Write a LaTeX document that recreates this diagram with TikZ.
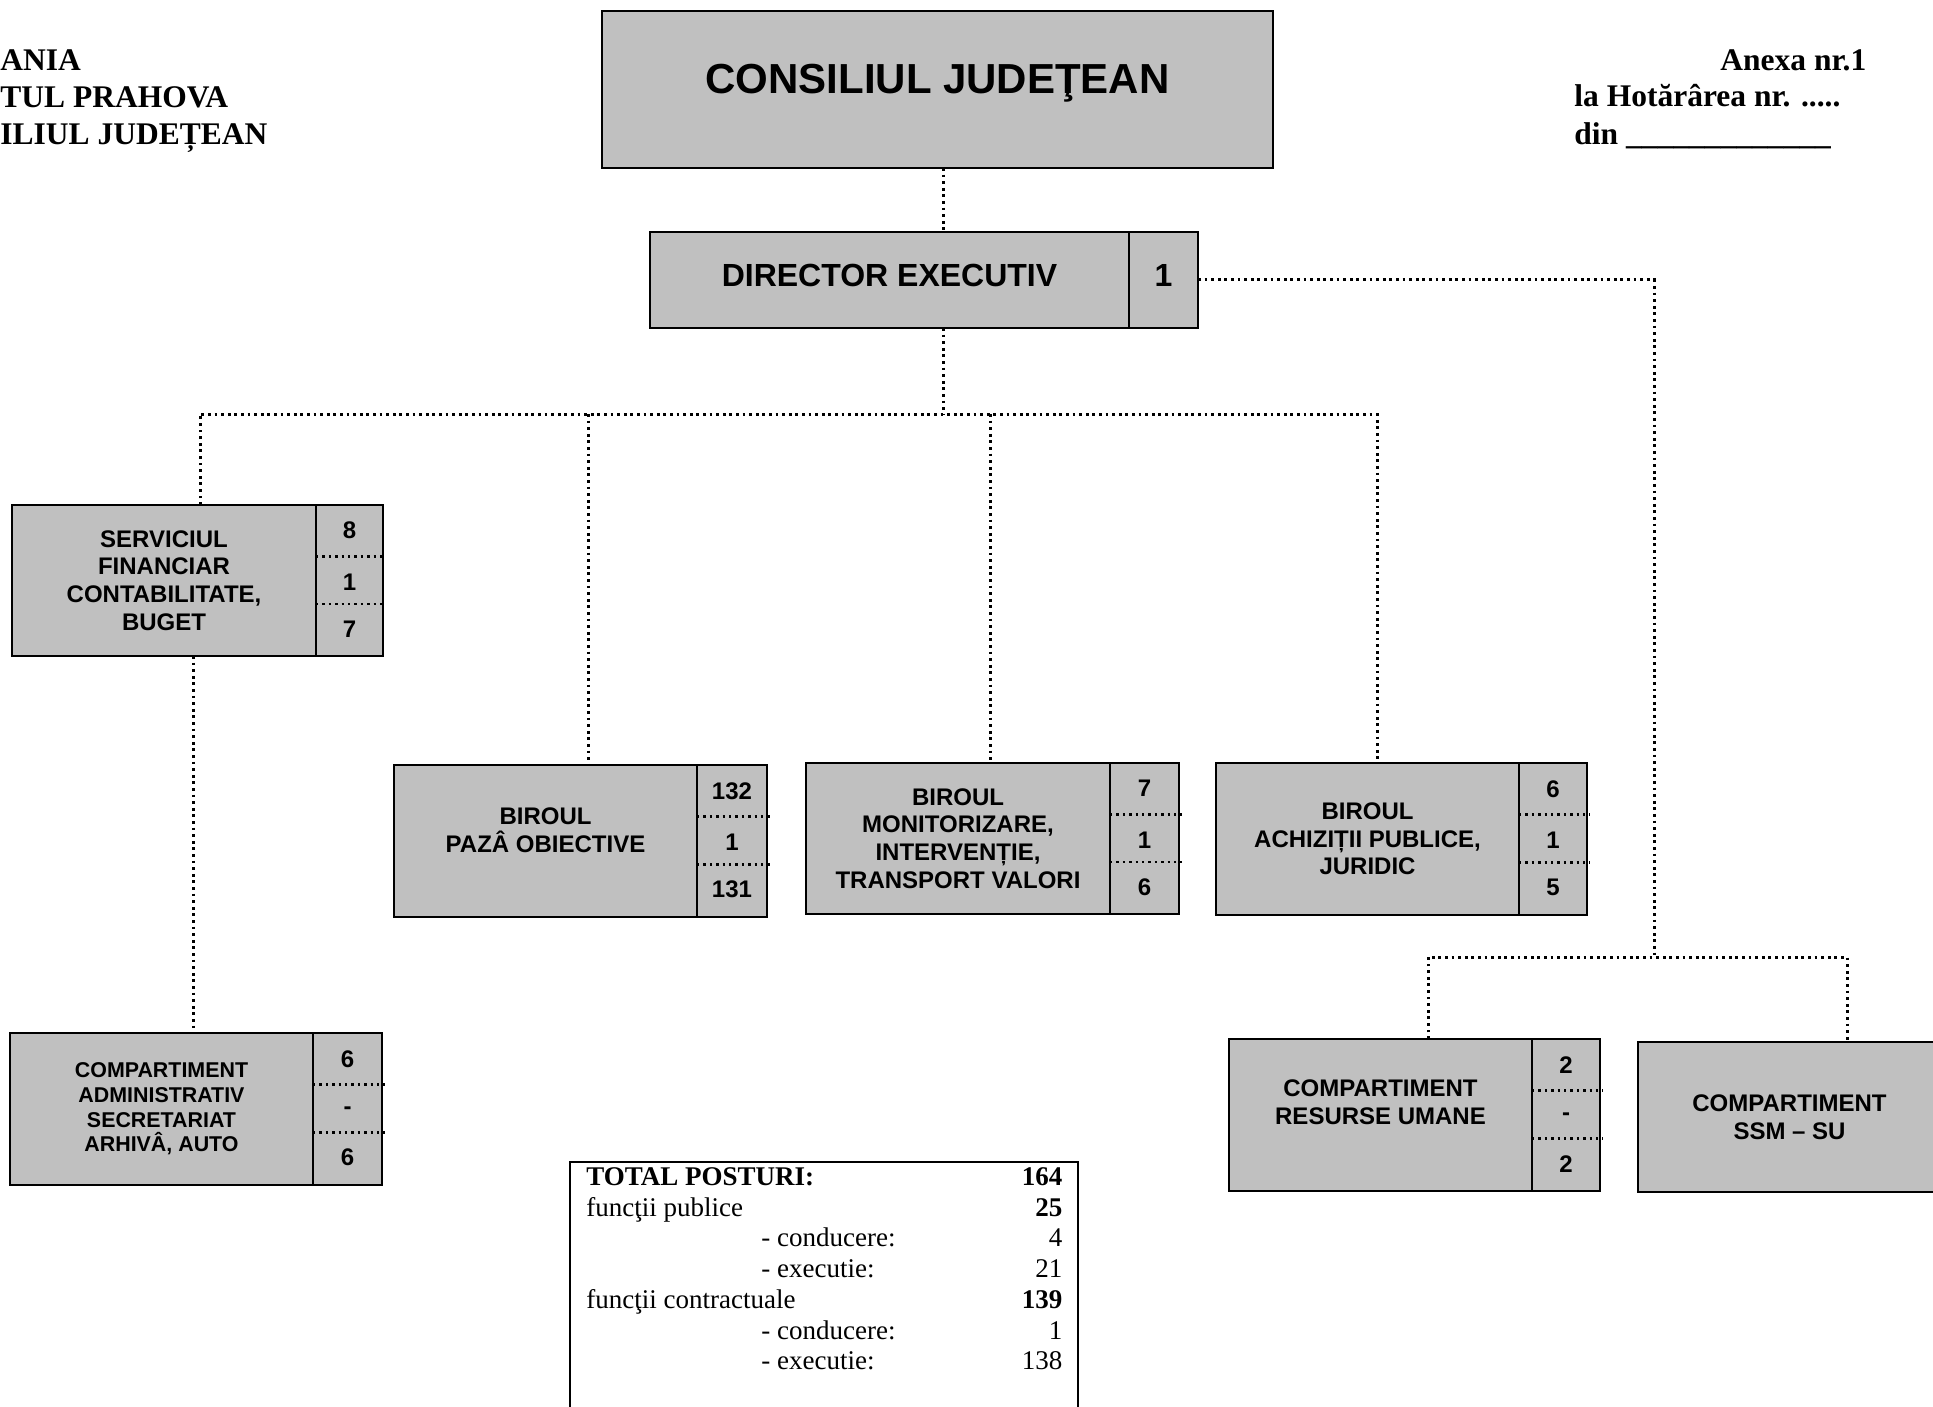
\documentclass[tikz,border=0pt]{standalone}
\usepackage{fontspec}
\setmainfont{Liberation Serif}
\newfontfamily\arialfont{Liberation Sans}
\usetikzlibrary{positioning,calc}
\definecolor{boxgray}{HTML}{C0C0C0}

\begin{document}
\begin{tikzpicture}[x=0.5pt, y=-0.5pt,
unitbox/.style={rectangle, draw=black, fill=boxgray, line width=0.8pt, inner sep=0pt, outer sep=0pt, align=center, font=\arialfont\bfseries\fontsize{12}{13.8}\selectfont},
numbox/.style={unitbox, minimum width=34.5pt},
unittext/.style={inner sep=0pt, align=center, font=\arialfont\bfseries\fontsize{12}{13.8}\selectfont},
numtext/.style={inner sep=0pt, font=\arialfont\bfseries\fontsize{12}{13.8}\selectfont},
headtext/.style={inner sep=0pt, anchor=base west, font=\bfseries\fontsize{15.75}{18.5}\selectfont},
link/.style={line width=1.5pt, dash pattern=on 1.4pt off 1.9pt},
sepline/.style={line width=1.2pt, dash pattern=on 1.2pt off 2pt, shorten >=-1.5pt},
]
\useasboundingbox (0,0) rectangle (1933,1407);
\clip (0,0) rectangle (1933,1407);
\fill[white] (0,0) rectangle (1933,1407);

%Header
\node[headtext] (tara)     at (0,71)    {ANIA};
\node[headtext] (judet)    at (0,108)   {TUL PRAHOVA};
\node[headtext] (cjhead)   at (0,145)   {ILIUL JUDEȚEAN};
\node[headtext] (anexa)    at (1720,71) {Anexa nr.1};
\node[headtext] (hotarare) at (1574,107) {la Hotărârea nr. .....};
\node[headtext] (datahot)  at (1574,145) {din \_\_\_\_\_\_\_\_\_\_\_\_\_};

%Nodes
\node[unitbox, minimum width=335.5pt, minimum height=78.5pt] (consiliu) at (937.5,89.5) {};
\node[unittext, anchor=base, font=\arialfont\bfseries\fontsize{21}{24}\selectfont] (consiliu-txt) at (937.5,94) {CONSILIUL JUDEŢEAN};

\node[unitbox, minimum width=239.5pt, minimum height=48pt, text depth=5pt, font=\arialfont\bfseries\fontsize{16}{18}\selectfont] (director) at (889.5,280) {DIRECTOR EXECUTIV};
\node[numbox, minimum height=48pt, right=0pt of director, text depth=5pt, font=\arialfont\bfseries\fontsize{16}{18}\selectfont] (dircol) {1};

\node[unitbox, minimum width=152pt, minimum height=75.5pt] (fin) at (164,580.5) {SERVICIUL\\FINANCIAR\\CONTABILITATE,\\BUGET};
\node[numbox, minimum width=33.5pt, minimum height=75.5pt, right=0pt of fin] (fincol) {};

\node[unitbox, minimum width=151.5pt, minimum height=76pt, font=\arialfont\bfseries\fontsize{10.7}{12.35}\selectfont] (adm) at (161.5,1109) {COMPARTIMENT\\ADMINISTRATIV\\SECRETARIAT\\ARHIVÂ, AUTO};
\node[numbox, minimum height=76pt, right=0pt of adm] (admcol) {};

\node[unitbox, minimum width=151.5pt, minimum height=76pt] (paz) at (545.5,841) {};
\node[unittext] (paz-txt) at (545.5,830.5) {BIROUL\\PAZÂ OBIECTIVE};
\node[numbox, minimum width=35pt, minimum height=76pt, right=0pt of paz] (pazcol) {};

\node[unitbox, minimum width=152pt, minimum height=75.5pt] (mon) at (958,838.5) {BIROUL\\MONITORIZARE,\\INTERVENȚIE,\\TRANSPORT VALORI};
\node[numbox, minimum height=75.5pt, right=0pt of mon] (moncol) {};

\node[unitbox, minimum width=151.5pt, minimum height=76pt] (ach) at (1367.5,839) {BIROUL\\ACHIZIȚII PUBLICE,\\JURIDIC};
\node[numbox, minimum width=34pt, minimum height=76pt, right=0pt of ach] (achcol) {};

\node[unitbox, minimum width=151.5pt, minimum height=76pt] (res) at (1380.5,1115) {};
\node[unittext] (res-txt) at (1380.5,1102.5) {COMPARTIMENT\\RESURSE UMANE};
\node[numbox, minimum width=34pt, minimum height=76pt, right=0pt of res] (rescol) {};

\node[unitbox, minimum width=151.5pt, minimum height=75pt] (ssm) at (1789.5,1117) {COMPARTIMENT\\SSM – SU};

%Posts in each unit
\foreach \cname/\na/\nb/\nc in {fincol/8/1/7, admcol/6/-/6, pazcol/132/1/131, moncol/7/1/6, achcol/6/1/5, rescol/2/-/2}{
  \node[numtext] (\cname-a) at ($(\cname.north)!0.17!(\cname.south)$) {\na};
  \node[numtext] (\cname-b) at ($(\cname.north)!0.51!(\cname.south)$) {\nb};
  \node[numtext] (\cname-c) at ($(\cname.north)!0.82!(\cname.south)$) {\nc};
  \draw[sepline] ($(\cname.north west)!0.34!(\cname.south west)$) -- ($(\cname.north east)!0.34!(\cname.south east)$);
  \draw[sepline] ($(\cname.north west)!0.655!(\cname.south west)$) -- ($(\cname.north east)!0.655!(\cname.south east)$);
}

%Lines
\coordinate (bus)     at (943,414);
\coordinate (findrop) at (200,414);
\coordinate (pazdrop) at (588,414);
\coordinate (mondrop) at (990,414);
\coordinate (achdrop) at (1377,414);
\coordinate (admlink) at (193,657);
\coordinate (rbus)    at (1654,957);
\coordinate (resdrop) at (1428,957);
\coordinate (ssmdrop) at (1847,957);

\draw[link] (consiliu.south -| bus) -- (director.north -| bus);
\draw[link] (director.south -| bus) -- (bus);
\draw[link] (findrop |- fin.north) -- (findrop) -- (achdrop) -- (achdrop |- ach.north);
\draw[link] (pazdrop) -- (pazdrop |- paz.north);
\draw[link] (mondrop) -- (mondrop |- mon.north);
\draw[link] (fin.south -| admlink) -- (adm.north -| admlink);
\draw[link] (dircol.east) -| (rbus);
\draw[link] (resdrop |- res.north) -- (resdrop) -- (ssmdrop) -- (ssmdrop |- ssm.north);

%Totals
\node[draw, line width=1.1pt, minimum width=254pt, minimum height=140pt, anchor=north west, inner sep=0pt, outer sep=0pt] (totals) at (570,1162) {};
\node[anchor=north west, inner sep=0pt, font=\fontsize{13.5}{15.35}\selectfont] (totals-txt) at ([xshift=8pt, yshift=-0.8pt]totals.north west) {%
\begin{tabular*}{238pt}{@{}l@{\extracolsep{\fill}}r@{}}
\textbf{TOTAL POSTURI:} & \textbf{164}\\
funcţii publice & \textbf{25}\\
\hspace*{87.5pt}- conducere: & 4\\
\hspace*{87.5pt}- executie: & 21\\
funcţii contractuale & \textbf{139}\\
\hspace*{87.5pt}- conducere: & 1\\
\hspace*{87.5pt}- executie: & 138
\end{tabular*}};
\end{tikzpicture}
\end{document}
